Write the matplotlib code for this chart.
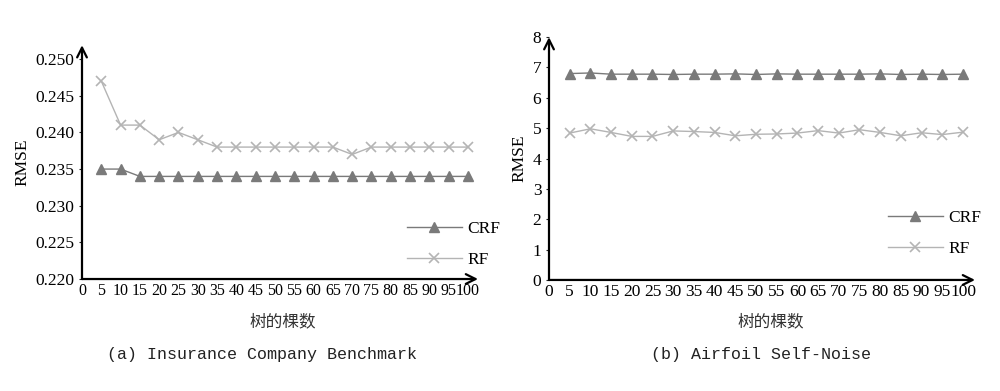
import matplotlib
matplotlib.use("Agg")
import matplotlib.pyplot as plt

# number of trees
trees = [5, 10, 15, 20, 25, 30, 35, 40, 45, 50, 55, 60, 65, 70, 75, 80, 85, 90, 95, 100]
x_ticks = [0] + trees

# (a) Insurance Company Benchmark
ins_crf = [0.235, 0.235, 0.234, 0.234, 0.234, 0.234, 0.234, 0.234, 0.234, 0.234,
           0.234, 0.234, 0.234, 0.234, 0.234, 0.234, 0.234, 0.234, 0.234, 0.234]
ins_rf = [0.247, 0.241, 0.241, 0.239, 0.240, 0.239, 0.238, 0.238, 0.238, 0.238,
          0.238, 0.238, 0.238, 0.237, 0.238, 0.238, 0.238, 0.238, 0.238, 0.238]
ins_yticks = [0.220, 0.225, 0.230, 0.235, 0.240, 0.245, 0.250]

# (b) Airfoil Self-Noise
air_crf = [6.80, 6.82, 6.78, 6.78, 6.78, 6.77, 6.78, 6.78, 6.79, 6.77,
           6.79, 6.78, 6.78, 6.78, 6.78, 6.79, 6.77, 6.78, 6.77, 6.78]
air_rf = [4.84, 4.98, 4.86, 4.73, 4.73, 4.91, 4.89, 4.86, 4.75, 4.80,
          4.81, 4.84, 4.92, 4.84, 4.95, 4.86, 4.75, 4.85, 4.79, 4.87]
air_yticks = [0, 1, 2, 3, 4, 5, 6, 7, 8]

SERIF = "Liberation Serif"
CJK = "Noto Sans CJK SC"
MONO = "Liberation Mono"
CRF_COLOR = "#7a7a7a"
RF_COLOR = "#b4b4b4"

fig = plt.figure(figsize=(10, 3.91), dpi=100)


def draw_panel(rect, crf, rf, yticks, ylim, xmax, ylabel_fmt, legend_xy, ylabel_x,
               xlabel_xy, caption_xy, caption, xtick_size):
    ax = fig.add_axes(rect)
    ax.plot(trees, crf, color=CRF_COLOR, lw=1.0, marker="^", ms=7.5,
            markerfacecolor=CRF_COLOR, markeredgecolor=CRF_COLOR, label="CRF")
    ax.plot(trees, rf, color=RF_COLOR, lw=1.0, marker="x", ms=7.5, mew=1.2,
            label="RF")

    ax.set_xlim(0, xmax)
    ax.set_ylim(*ylim)
    ax.set_xticks(x_ticks)
    ax.set_xticklabels([str(t) for t in x_ticks], fontfamily=SERIF,
                       fontsize=xtick_size)
    ax.set_yticks(yticks)
    ax.set_yticklabels([ylabel_fmt.format(v) for v in yticks], fontfamily=SERIF,
                       fontsize=12.5)
    ax.tick_params(axis="both", length=2.5, width=0.8, pad=3, color="#222222")
    ax.tick_params(axis="x", length=0)

    for s in ["top", "right", "left", "bottom"]:
        ax.spines[s].set_visible(False)

    # axis lines with open arrow heads
    ax.annotate("", xy=(1.0, 0), xytext=(0, 0), xycoords="axes fraction",
                arrowprops=dict(arrowstyle="->,head_length=0.7,head_width=0.35",
                                color="black", lw=1.6, shrinkA=0, shrinkB=0))
    ax.annotate("", xy=(0, 1.0), xytext=(0, 0), xycoords="axes fraction",
                arrowprops=dict(arrowstyle="->,head_length=0.7,head_width=0.35",
                                color="black", lw=1.6, shrinkA=0, shrinkB=0))

    fig.text(ylabel_x, rect[1] + rect[3] / 2, "RMSE", rotation=90, ha="center",
             va="center", fontfamily=SERIF, fontsize=12.5)

    ax.legend(loc="upper left", bbox_to_anchor=legend_xy,
              bbox_transform=fig.transFigure, frameon=False,
              handlelength=3.2, handletextpad=0.3, labelspacing=0.85,
              prop={"family": SERIF, "size": 12.5})

    fig.text(xlabel_xy[0], xlabel_xy[1], "树的棵数", ha="center", va="center",
             fontfamily=CJK, fontsize=12, color="#333333")
    fig.text(caption_xy[0], caption_xy[1], caption, ha="center", va="center",
             fontfamily=MONO, fontsize=12, color="#222222")
    return ax


# left panel: y-axis at x=82px, 0.220 at y=279px, arrow top at 45px
draw_panel([0.082, 0.2864, 0.396, 0.598], ins_crf, ins_rf, ins_yticks,
           (0.220, 0.2519), 102.6, "{:.3f}", (0.391, 0.475), 0.022,
           (0.283, 0.177), (0.262, 0.093), "(a) Insurance Company Benchmark", 11.5)

# right panel: y-axis at x=549px, 0 at y=280px, arrow top at 37px
draw_panel([0.549, 0.284, 0.426, 0.621], air_crf, air_rf, air_yticks,
           (0, 8), 102.9, "{:d}", (0.872, 0.503), 0.519,
           (0.771, 0.177), (0.761, 0.093), "(b) Airfoil Self-Noise", 12.5)

fig.savefig("out.png", dpi=100)
